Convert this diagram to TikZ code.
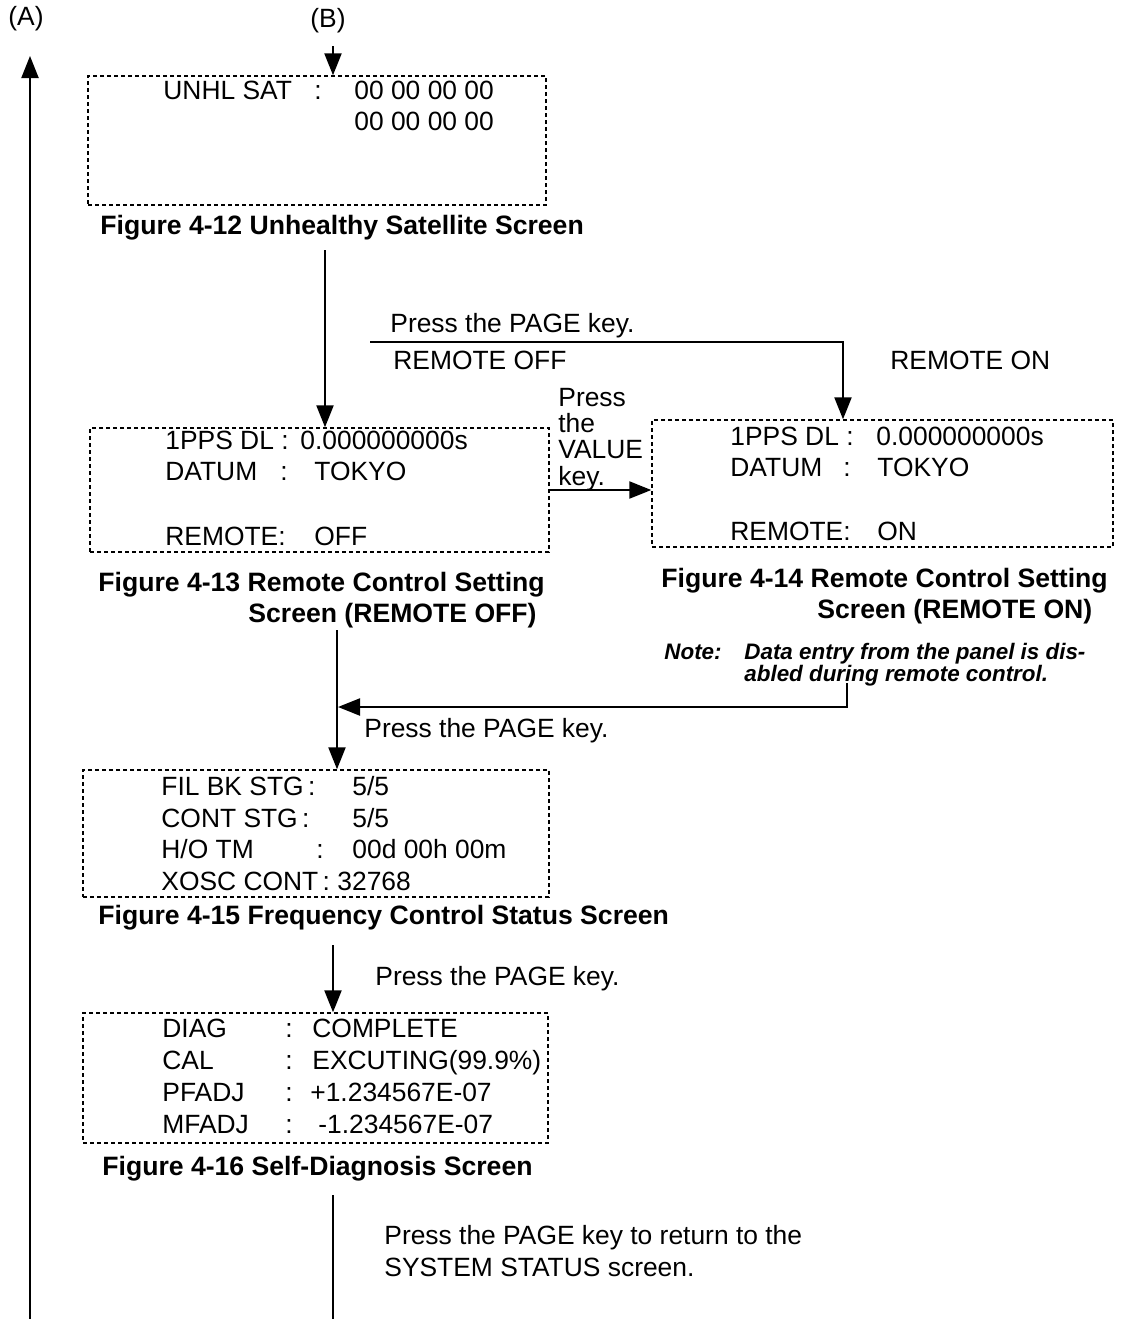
\documentclass[tikz,border=0pt]{standalone}
\usepackage{fontspec}
\setmainfont{Liberation Sans}
\usetikzlibrary{arrows.meta,fit}
\begin{document}
\begin{tikzpicture}[x=0.5pt,y=-0.5pt,
  txt/.style={anchor=base west,inner sep=0pt,font=\fontsize{13.2pt}{15pt}\selectfont},
  figcap/.style={anchor=base west,inner sep=0pt,font=\fontsize{13.3pt}{15pt}\selectfont\bfseries},
  notef/.style={anchor=base west,inner sep=0pt,font=\fontsize{11.2pt}{13pt}\selectfont\bfseries\itshape},
  scr/.style={draw,line width=0.7pt,dash pattern=on 2pt off 1.5pt,inner sep=0pt},
  conn/.style={line width=1.1pt},
  arr/.style={line width=1.1pt,-{Triangle[length=11pt,width=8.5pt]}}]
\useasboundingbox (0,0) rectangle (1124,1319);

% labels A and B
\node[txt] (A) at (8,25) {(A)};
\node[txt] (B) at (310,27) {(B)};
\coordinate (abot) at (30,1319);
\coordinate (atop) at (30,56);
\draw[arr] (abot) -- (atop);

% screen boxes
\node[scr,fit={(88,76) (546,205)}] (b1) {};
\node[scr,fit={(90,428) (549,552)}] (b2) {};
\node[scr,fit={(652,420) (1113,547)}] (b3) {};
\node[scr,fit={(83,770) (549,897)}] (b4) {};
\node[scr,fit={(83,1013) (548,1143)}] (b5) {};

% box 1
\node[txt] (t11) at (163,99) {UNHL SAT};
\node[txt] (t12) at (314,99) {:};
\node[txt] (t13) at (354,99) {00 00 00 00};
\node[txt] (t14) at (354,130) {00 00 00 00};
\node[figcap] (f12) at (100,234) {Figure 4-12 Unhealthy Satellite Screen};

% box 2
\node[txt] (t21) at (165,449) {1PPS DL\;:};
\node[txt] (t22) at (300,449) {0.000000000s};
\node[txt] (t23) at (165,480) {DATUM};
\node[txt] (t24) at (280,480) {:};
\node[txt] (t25) at (314,480) {TOKYO};
\node[txt] (t26) at (165,545) {REMOTE:};
\node[txt] (t27) at (314,545) {OFF};
\node[figcap] (f13a) at (98,591) {Figure 4-13 Remote Control Setting};
\node[figcap] (f13b) at (248,622) {Screen (REMOTE OFF)};

% box 3
\node[txt] (t31) at (730,445) {1PPS DL\;:};
\node[txt] (t32) at (876,445) {0.000000000s};
\node[txt] (t33) at (730,476) {DATUM};
\node[txt] (t34) at (843,476) {:};
\node[txt] (t35) at (877,476) {TOKYO};
\node[txt] (t36) at (730,540) {REMOTE:};
\node[txt] (t37) at (877,540) {ON};
\node[figcap] (f14a) at (661,587) {Figure 4-14 Remote Control Setting};
\node[figcap] (f14b) at (817,618) {Screen (REMOTE ON)};

% note
\node[notef] (n1) at (664,659) {Note:};
\node[notef] (n2) at (744,659) {Data entry from the panel is dis-};
\node[notef] (n3) at (744,681) {abled during remote control.};

% top connectors
\node[txt] (p1) at (390,332) {Press the PAGE key.};
\node[txt] (roff) at (393,369) {REMOTE OFF};
\node[txt] (ron) at (890,369) {REMOTE ON};
\node[txt] (v1) at (558,406) {Press};
\node[txt] (v2) at (558,432) {the};
\node[txt] (v3) at (558,458) {VALUE};
\node[txt] (v4) at (558,485) {key.};

\coordinate (c12) at (325,250);
\draw[arr] (c12) -- (c12 |- b2.north);
\coordinate (pg0) at (370,342);
\coordinate (pg1) at (843,342);
\draw[arr] (pg0) -- (pg1) -- (pg1 |- b3.north);
\draw[arr] (b2.east) -- (b2.east -| b3.west);

% box 4
\coordinate (c24) at (337,630);
\draw[arr] (c24) -- (c24 |- b4.north);
\coordinate (rt0) at (847,683);
\coordinate (rt1) at (847,707);
\coordinate (rt2) at (338,707);
\draw[arr] (rt0) -- (rt1) -- (rt2);
\node[txt] (p2) at (364,737) {Press the PAGE key.};

\node[txt] (t41) at (161,795) {FIL BK STG\,:};
\node[txt] (t42) at (352,795) {5/5};
\node[txt] (t43) at (161,827) {CONT STG\,:};
\node[txt] (t44) at (352,827) {5/5};
\node[txt] (t45) at (161,858) {H/O TM};
\node[txt] (t46) at (316,858) {:};
\node[txt] (t47) at (352,858) {00d 00h 00m};
\node[txt] (t48) at (161,890) {XOSC CONT\,: 32768};
\node[figcap] (f15) at (98,924) {Figure 4-15 Frequency Control Status Screen};

% box 5
\coordinate (c45) at (333,945);
\draw[arr] (c45) -- (c45 |- b5.north);
\node[txt] (p3) at (375,985) {Press the PAGE key.};

\node[txt] (t51) at (162,1037) {DIAG};
\node[txt] (t52) at (285,1037) {:};
\node[txt] (t53) at (312,1037) {COMPLETE};
\node[txt] (t54) at (162,1069) {CAL};
\node[txt] (t55) at (285,1069) {:};
\node[txt] (t56) at (312,1069) {EXCUTING(99.9\%)};
\node[txt] (t57) at (162,1101) {PFADJ};
\node[txt] (t58) at (285,1101) {:};
\node[txt] (t59) at (310,1101) {+1.234567E-07};
\node[txt] (t5a) at (162,1133) {MFADJ};
\node[txt] (t5b) at (285,1133) {:};
\node[txt] (t5c) at (318,1133) {-1.234567E-07};
\node[figcap] (f16) at (102,1175) {Figure 4-16 Self-Diagnosis Screen};

% bottom
\coordinate (c5e) at (333,1195);
\coordinate (c5f) at (333,1319);
\draw[conn] (c5e) -- (c5f);
\node[txt] (p4) at (384,1244) {Press the PAGE key to return to the};
\node[txt] (p5) at (384,1276) {SYSTEM STATUS screen.};

% B arrow
\coordinate (bs) at (333,46);
\draw[arr] (bs) -- (bs |- b1.north);
\end{tikzpicture}
\end{document}
